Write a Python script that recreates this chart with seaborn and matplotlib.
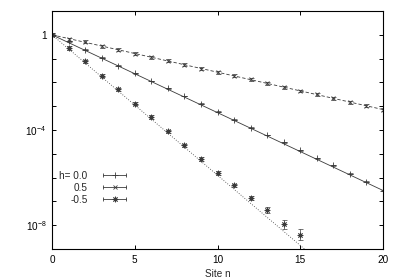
import numpy as np
import pandas as pd
import matplotlib
matplotlib.use("Agg")
import matplotlib.pyplot as plt
import seaborn as sns
from matplotlib.lines import Line2D
from matplotlib.legend_handler import HandlerLine2D, HandlerTuple

sns.set_style("ticks")
plt.rcParams['font.family'] = ['Liberation Sans', 'DejaVu Sans']
plt.rcParams['mathtext.fontset'] = 'custom'
plt.rcParams['mathtext.rm'] = 'Liberation Sans'
plt.rcParams['mathtext.default'] = 'rm'

sites = list(range(21))
h00_dec = [0, 0.28, 0.63, 0.96, 1.29, 1.62, 1.94, 2.24, 2.57, 2.90, 3.24,
           3.57, 3.90, 4.21, 4.52, 4.86, 5.18, 5.49, 5.84, 6.17, 6.55]
h05_dec = [0, 0.18, 0.29, 0.48, 0.63, 0.79, 0.94, 1.08, 1.25, 1.42, 1.58,
           1.72, 1.87, 2.04, 2.20, 2.36, 2.49, 2.67, 2.83, 2.98, 3.14]
sites_m = list(range(16))
hm05_dec = [0, 0.55, 1.12, 1.71, 2.29, 2.89, 3.46, 4.06, 4.64, 5.22, 5.81,
            6.33, 6.86, 7.37, 7.96, 8.40]

# error bars (in decades)
h00_err = [0.02] * 21
h05_err = [0.06] * 21
hm05_err = [0.07] * 13 + [0.12, 0.19, 0.23]

# fitted straight lines (end points)
fit_x = {"0.0": [0, 20], "0.5": [0, 20], "-0.5": [0, 16]}
fit_dec = {"0.0": [0, 6.54], "0.5": [0, 3.14], "-0.5": [0, 9.44]}

labels = ["h= 0.0", "0.5", "-0.5"]
keys = ["0.0", "0.5", "-0.5"]
styles = ["-", (0, (4, 2.5)), (0, (1, 2))]
markers = ["+", "x", (8, 2, 0)]
msizes = [4, 3.5, 4]
col = "#3a3a3a"

fig = plt.figure(figsize=(4.0, 2.79), dpi=100)
ax = fig.add_axes([0.13, 0.1075, 0.8275, 0.853])

rows = []
for k in keys:
    for xx, dd in zip(fit_x[k], fit_dec[k]):
        rows.append({"h": k, "n": xx, "c": 10.0 ** (-dd)})
fits = pd.DataFrame(rows)

for k, ls in zip(keys, styles):
    sns.lineplot(data=fits[fits.h == k], x="n", y="c", ax=ax, color=col,
                 lw=0.6, linestyle=ls, legend=False)

data = [(sites, h00_dec, h00_err), (sites, h05_dec, h05_err),
        (sites_m, hm05_dec, hm05_err)]
handles = []
hmap = {}
for (xs, dec, err), mk, ms, lab in zip(data, markers, msizes, labels):
    y = 10.0 ** (-np.array(dec))
    e = np.array(err)
    lo = y - y * 10.0 ** (-e)
    hi = y * 10.0 ** e - y
    ax.errorbar(xs, y, yerr=[lo, hi], fmt="none", ecolor=col, elinewidth=0.5,
                capsize=1.8, capthick=0.5)
    ax.plot(xs, y, ls="none", marker=mk, ms=ms, mew=0.6, color=col)
    bar = Line2D([], [], color=col, lw=0.6, marker="|", ms=3.5, mew=0.6)
    pt = Line2D([], [], ls="none", marker=mk, ms=ms, mew=0.6, color=col)
    hmap[pt] = HandlerLine2D(numpoints=1)
    hmap[bar] = HandlerLine2D(numpoints=2)
    handles.append((bar, pt))
hmap[tuple] = HandlerTuple(ndivide=1)

ax.set_yscale("log")
ax.set_xlim(0, 20)
ax.set_ylim(1e-9, 10)
ax.set_xticks([0, 5, 10, 15, 20])
dec_ticks = [10.0 ** p for p in range(-9, 2)]
dec_labels = ["$10^{-8}$" if p == -8 else "$10^{-4}$" if p == -4 else "1" if p == 0 else ""
              for p in range(-9, 2)]
ax.set_yticks(dec_ticks, dec_labels)
ax.yaxis.set_minor_locator(matplotlib.ticker.NullLocator())
ax.tick_params(which="both", direction="in", top=True, right=True, length=3,
               width=0.7, labelsize=7.2, pad=4, colors="black")
for s in ax.spines.values():
    s.set_linewidth(0.8)
    s.set_color("black")
ax.set_xlabel("Site n", fontsize=7.2, labelpad=3)
ax.set_ylabel("")

leg = ax.legend(handles, labels, handler_map=hmap, loc="center right",
                bbox_to_anchor=(0.234, 0.258), frameon=False, markerfirst=False,
                fontsize=7.2, handlelength=2.9, handletextpad=1.3,
                labelspacing=0.2, borderpad=0, borderaxespad=0)

fig.savefig("out.png", dpi=100)
